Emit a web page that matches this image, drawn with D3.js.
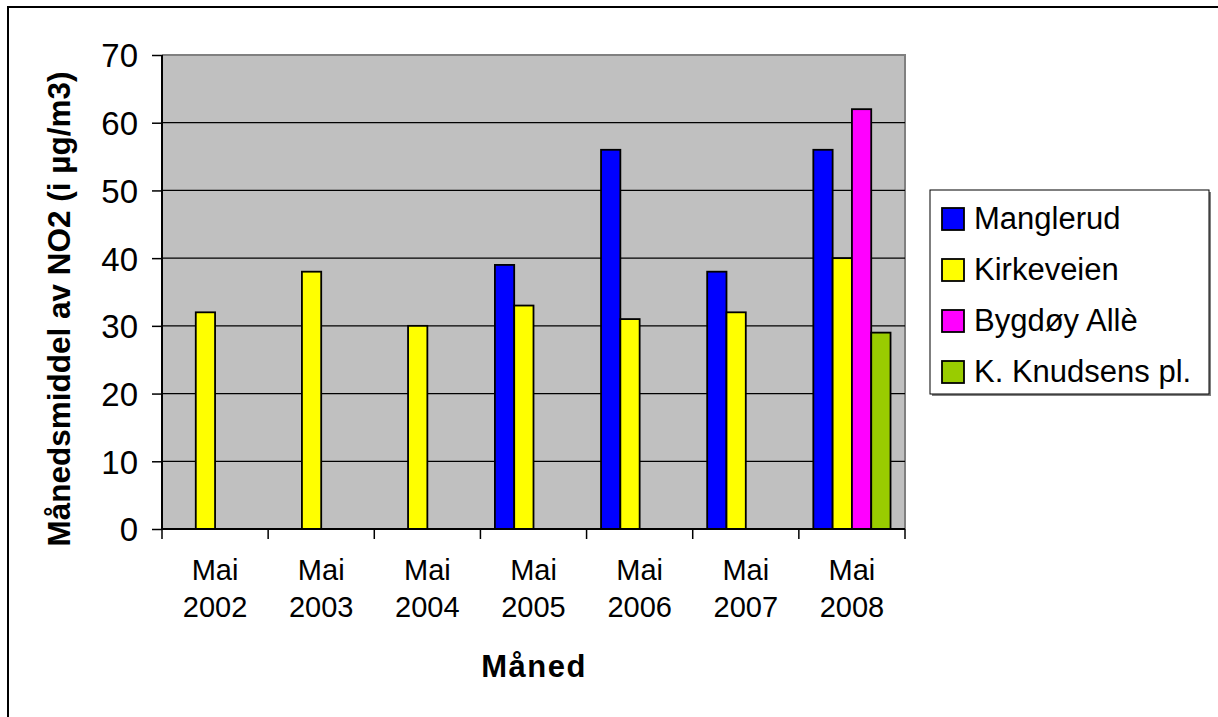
<!DOCTYPE html>
<html><head><meta charset="utf-8">
<script src="https://cdn.jsdelivr.net/npm/d3@7"></script>
<style>body{margin:0;background:#fff;} svg{display:block;font-family:"Liberation Sans",Arial,sans-serif;}</style>
</head><body>
<svg id="c" width="1218" height="717"></svg>
<script>
const categories = [["Mai","2002"],["Mai","2003"],["Mai","2004"],["Mai","2005"],["Mai","2006"],["Mai","2007"],["Mai","2008"]];
const seriesNames = ["Manglerud","Kirkeveien","Bygdøy Allè","K. Knudsens pl."];
const seriesColors = ["#0000FF","#FFFF00","#FF00FF","#99CC00"];
const manglerud   = [null, null, null, 39, 56, 38, 56];
const kirkeveien  = [32, 38, 30, 33, 31, 32, 40];
const bygdoy      = [null, null, null, null, null, null, 62];
const knudsens    = [null, null, null, null, null, null, 29];
const yTicks = [0,10,20,30,40,50,60,70];
const seriesValues = [manglerud, kirkeveien, bygdoy, knudsens];

const svg = d3.select("#c");
const L = 162, R = 905, T = 55, B = 529;

// outer border
svg.append("rect").attr("x",8).attr("y",7).attr("width",1240).attr("height",740)
  .attr("fill","#fff").attr("stroke","#000").attr("stroke-width",2);

const x = d3.scaleBand().domain(d3.range(categories.length)).range([L,R]).padding(0);
const groupW = x.bandwidth()*4/5.5;
const xs = d3.scaleBand().domain(d3.range(4)).range([0,groupW]).padding(0);
const y = d3.scaleLinear().domain([0,70]).range([B,T]);

// plot background
svg.append("rect").attr("x",L).attr("y",T).attr("width",R-L).attr("height",B-T).attr("fill","#C0C0C0");
svg.append("path").attr("d",`M${L},${T}H${R}V${B}`).attr("fill","none").attr("stroke","#808080").attr("stroke-width",2);

// gridlines
svg.append("g").selectAll("line").data(yTicks.filter(d=>d>0 && d<70)).join("line")
  .attr("x1",L).attr("x2",R).attr("y1",d=>y(d)).attr("y2",d=>y(d))
  .attr("stroke","#000").attr("stroke-width",1.2);

// bars
seriesValues.forEach((vals,si)=>{
  svg.append("g").selectAll("rect").data(vals.map((v,i)=>({v,i})).filter(d=>d.v!=null)).join("rect")
    .attr("x",d=>x(d.i)+(x.bandwidth()-groupW)/2+xs(si))
    .attr("width",xs.bandwidth())
    .attr("y",d=>y(d.v)).attr("height",d=>B-y(d.v))
    .attr("fill",seriesColors[si]).attr("stroke","#000").attr("stroke-width",1.8);
});

// y axis
const yAxis = d3.axisLeft(y).tickValues(yTicks).tickSize(10).tickPadding(14);
const gy = svg.append("g").attr("transform",`translate(${L},0)`).call(yAxis);
gy.attr("font-family",null);
gy.select(".domain").attr("stroke","#000").attr("stroke-width",2).attr("d",`M0,${T}V${B}`);
gy.selectAll(".tick line").attr("stroke","#000").attr("stroke-width",1.5);
gy.selectAll(".tick text").attr("font-size",33).attr("fill","#000").attr("dy","0.36em");

// x axis
const xTickPos = d3.range(categories.length+1).map(i=>L+i*x.bandwidth());
const gx = svg.append("g");
gx.append("line").attr("x1",L).attr("x2",R).attr("y1",B).attr("y2",B).attr("stroke","#000").attr("stroke-width",2);
gx.selectAll("line.t").data(xTickPos).join("line").attr("class","t")
  .attr("x1",d=>d).attr("x2",d=>d).attr("y1",B).attr("y2",B+10).attr("stroke","#000").attr("stroke-width",1.5);
const lab = gx.selectAll("text").data(categories).join("text")
  .attr("text-anchor","middle").attr("font-size",29).attr("fill","#000");
lab.append("tspan").attr("x",(d,i)=>x(i)+x.bandwidth()/2).attr("y",580).text(d=>d[0]);
lab.append("tspan").attr("x",(d,i)=>x(i)+x.bandwidth()/2).attr("y",617).text(d=>d[1]);

// axis titles
svg.append("text").attr("x",534).attr("y",677).attr("text-anchor","middle")
  .attr("font-size",31).attr("font-weight","bold").attr("letter-spacing","1.5px").text("Måned");
svg.append("text").attr("transform","translate(70,309) rotate(-90)").attr("text-anchor","middle")
  .attr("font-size",31.5).attr("font-weight","bold").text("Månedsmiddel av NO2 (i µg/m3)");

// legend
const lg = svg.append("g");
lg.append("rect").attr("x",932).attr("y",192).attr("width",279).attr("height",204).attr("fill","#808080");
lg.append("rect").attr("x",930).attr("y",190).attr("width",279).attr("height",204).attr("fill","#fff").attr("stroke","#000").attr("stroke-width",1);
seriesNames.forEach((n,i)=>{
  const cy = 219 + i*51;
  lg.append("rect").attr("x",942).attr("y",cy-11).attr("width",22).attr("height",22)
    .attr("fill",seriesColors[i]).attr("stroke","#000").attr("stroke-width",1.8);
  lg.append("text").attr("x",974).attr("y",cy+10).attr("font-size",31).attr("fill","#000").text(n);
});
</script>
</body></html>
